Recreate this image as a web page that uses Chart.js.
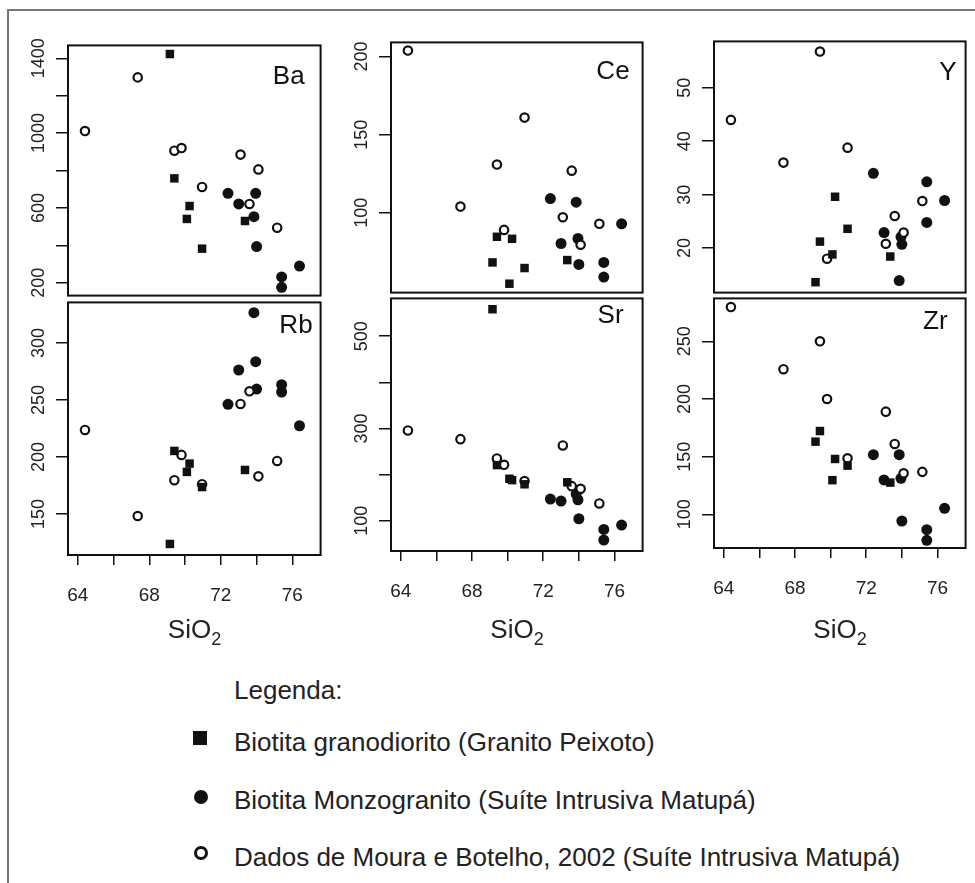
<!DOCTYPE html>
<html>
<head>
<meta charset="utf-8">
<script src="https://cdn.jsdelivr.net/npm/chart.js@4.4.1/dist/chart.umd.min.js"></script>
<style>
  body { margin: 0; background: #fff; }
  #page { position: relative; width: 975px; height: 883px; overflow: hidden;
          font-family: "Liberation Sans", Arial, sans-serif; color: #222; }
  #frame { position: absolute; left: 7px; top: 9px; width: 1000px; height: 900px;
           border-top: 2px solid #777; border-left: 2px solid #777; }
  canvas { position: absolute; }
  .xtitle { position: absolute; width: 200px; text-align: center; font-size: 26px; line-height: 26px; }
  .xtitle sub { font-size: 18px; line-height: 0; vertical-align: -7px; }
  .leg { position: absolute; left: 234px; font-size: 26px; line-height: 26px; white-space: nowrap; }
  .mk { position: absolute; background: #111; }
</style>
</head>
<body>
<div id="page">
  <div id="frame"></div>
</div>
<script>
// legend names
const groups = [
  'Biotita granodiorito (Granito Peixoto)',
  'Biotita Monzogranito (Suíte Intrusiva Matupá)',
  'Dados de Moura e Botelho, 2002 (Suíte Intrusiva Matupá)'
]

// SiO2 (wt%) of each sample
const sio2Granodiorito = [69.15, 69.4, 70.1, 70.25, 70.95, 73.35]
const sio2Monzogranito = [72.4, 73.0, 73.85, 73.95, 74.0, 75.4, 75.4, 76.4]
const sio2Moura = [64.4, 67.35, 69.4, 69.8, 70.95, 73.1, 73.6, 74.1, 75.15]

// trace elements (ppm), same sample order as above
const baGranodiorito = [1423, 758, 541, 610, 382, 530]
const baMonzogranito = [678, 621, 553, 678, 393, 231, 175, 289]
const baMoura = [1011, 1298, 906, 920, 712, 885, 621, 806, 494]

const ceGranodiorito = [68.3, 84.7, 54.7, 83.4, 64.7, 69.8]
const ceMonzogranito = [109.1, 80.4, 106.8, 83.6, 67, 68.3, 58.9, 93]
const ceMoura = [203.8, 104, 130.9, 89.1, 160.9, 97.2, 127, 79.6, 93]

const yGranodiorito = [13.6, 21.2, 18.8, 29.6, 23.6, 18.4]
const yMonzogranito = [34.0, 22.9, 13.9, 22.1, 20.7, 32.4, 24.8, 28.9]
const yMoura = [44.0, 36.0, 56.8, 18.0, 38.8, 20.8, 26.0, 22.9, 28.8]

const rbGranodiorito = [123.7, 205.3, 186.9, 194.2, 173.6, 188.6]
const rbMonzogranito = [246.2, 276.3, 326.6, 283.6, 259.6, 263.4, 257, 227.4]
const rbMoura = [223.7, 148.2, 179.6, 201.8, 176.1, 246.5, 257.6, 183, 196.5]

const srGranodiorito = [558.5, 220.6, 191, 188, 179, 183.3]
const srMonzogranito = [146.9, 142.6, 157.8, 145.5, 104.3, 81.2, 58.1, 90.6]
const srMoura = [295.7, 276.9, 235, 221.3, 185.9, 263.2, 175, 169.3, 137.5]

const zrGranodiorito = [163, 172.2, 129.6, 148, 142.2, 127.5]
const zrMonzogranito = [151.7, 129.8, 151.7, 131.2, 94.2, 86.7, 77.5, 105.2]
const zrMoura = [279.7, 225.8, 250, 200, 148.6, 189, 161, 135.6, 136.8]

// axis ticks and the ones that carry a label
const xTicks = [64, 66, 68, 70, 72, 74, 76]
const xLabels = [64, 68, 72, 76]
const baTicks = [200, 400, 600, 800, 1000, 1200, 1400]
const baLabels = [200, 600, 1000, 1400]
const ceTicks = [100, 150, 200]
const yTicks = [20, 30, 40, 50]
const rbTicks = [150, 200, 250, 300]
const srTicks = [100, 200, 300, 400, 500]
const srLabels = [100, 300, 500]
const zrTicks = [100, 150, 200, 250]

const FONT = '"Liberation Sans", Arial, sans-serif'
const PAD = 6
const YW = 62

// box = plot frame on the page [left, top, right, bottom]
const panels = [
  { name: 'Ba', box: [68, 45, 321, 296], yMin: 131, yMax: 1469, ticks: baTicks, labels: baLabels,
    values: [baGranodiorito, baMonzogranito, baMoura], nameAt: [16, 31] },
  { name: 'Ce', box: [391, 42, 643, 293], yMin: 49, yMax: 209, ticks: ceTicks, labels: ceTicks,
    values: [ceGranodiorito, ceMonzogranito, ceMoura], nameAt: [13, 29] },
  { name: 'Y', box: [714, 41, 966, 293], yMin: 11.65, yMax: 58.7, ticks: yTicks, labels: yTicks,
    values: [yGranodiorito, yMonzogranito, yMoura], nameAt: [9, 31] },
  { name: 'Rb', box: [68, 302, 321, 555], yMin: 114, yMax: 335.6, ticks: rbTicks, labels: rbTicks,
    values: [rbGranodiorito, rbMonzogranito, rbMoura], nameAt: [8, 31], bottom: true },
  { name: 'Sr', box: [391, 298, 643, 551], yMin: 34.4, yMax: 582, ticks: srTicks, labels: srLabels,
    values: [srGranodiorito, srMonzogranito, srMoura], nameAt: [19, 25], bottom: true },
  { name: 'Zr', box: [714, 298, 966, 548], yMin: 70.8, yMax: 287.2, ticks: zrTicks, labels: zrTicks,
    values: [zrGranodiorito, zrMonzogranito, zrMoura], nameAt: [18, 31], bottom: true }
]

// frame, rotated y labels, x labels and element name
const panelText = {
  id: 'panelText',
  afterDraw(chart, args, opts) {
    const { ctx, chartArea: ca, scales } = chart
    ctx.save()
    ctx.strokeStyle = '#111'
    ctx.lineWidth = 2
    ctx.strokeRect(ca.left, ca.top, ca.right - ca.left, ca.bottom - ca.top)

    ctx.fillStyle = '#222'
    ctx.font = '18px ' + FONT
    ctx.textAlign = 'center'
    ctx.textBaseline = 'middle'
    opts.yLabels.forEach(v => {
      ctx.save()
      ctx.translate(ca.left - 29, scales.y.getPixelForValue(v))
      ctx.rotate(-Math.PI / 2)
      ctx.fillText(String(v), 0, 0)
      ctx.restore()
    })

    if (opts.bottom) {
      ctx.font = '19px ' + FONT
      ctx.textBaseline = 'alphabetic'
      xLabels.forEach(v => ctx.fillText(String(v), scales.x.getPixelForValue(v), ca.bottom + 46))
    }

    ctx.fillStyle = '#111'
    ctx.font = '26px ' + FONT
    ctx.textAlign = 'right'
    ctx.fillText(opts.name, ca.right - opts.nameAt[0], ca.top + opts.nameAt[1])
    ctx.restore()
  }
}

function pts(xs, ys) {
  return xs.map((x, i) => ({ x: x, y: ys[i] }))
}

function tickMarks(list) {
  return scale => { scale.ticks = list.map(v => ({ value: v })) }
}

const page = document.getElementById('page')

panels.forEach(p => {
  const [l, t, r, b] = p.box
  const xh = p.bottom ? 612 - b : 0
  const cv = document.createElement('canvas')
  cv.width = (r - l) + YW + PAD
  cv.height = (b - t) + PAD + (p.bottom ? xh : PAD)
  cv.style.left = (l - YW) + 'px'
  cv.style.top = (t - PAD) + 'px'
  page.appendChild(cv)

  const marks = { drawOnChartArea: false, drawTicks: true, color: '#111', lineWidth: 1.5 }

  new Chart(cv, {
    type: 'scatter',
    data: {
      datasets: [
        { label: groups[0], data: pts(sio2Granodiorito, p.values[0]), pointStyle: 'rect',
          pointRadius: 6, backgroundColor: '#111', borderWidth: 0, order: 0, clip: false },
        { label: groups[2], data: pts(sio2Moura, p.values[2]), pointStyle: 'circle',
          pointRadius: 4.2, backgroundColor: '#fff', borderColor: '#111', borderWidth: 2.2, order: 1, clip: false },
        { label: groups[1], data: pts(sio2Monzogranito, p.values[1]), pointStyle: 'circle',
          pointRadius: 5.5, backgroundColor: '#111', borderWidth: 0, order: 2, clip: false }
      ]
    },
    options: {
      responsive: false,
      animation: false,
      devicePixelRatio: 1,
      events: [],
      layout: { padding: { left: 0, top: PAD, right: PAD, bottom: p.bottom ? 0 : PAD } },
      plugins: {
        legend: { display: false },
        tooltip: { enabled: false },
        panelText: { name: p.name, nameAt: p.nameAt, yLabels: p.labels, bottom: !!p.bottom }
      },
      scales: {
        x: {
          type: 'linear', min: 63.45, max: 77.58, display: !!p.bottom,
          afterBuildTicks: tickMarks(xTicks),
          afterFit: s => { s.height = xh },
          ticks: { display: false },
          grid: Object.assign({ tickLength: 10 }, marks),
          border: { display: false }
        },
        y: {
          type: 'linear', min: p.yMin, max: p.yMax,
          afterBuildTicks: tickMarks(p.ticks),
          afterFit: s => { s.width = YW },
          ticks: { display: false },
          grid: Object.assign({ tickLength: 12 }, marks),
          border: { display: false }
        }
      }
    },
    plugins: [panelText]
  })

  if (p.bottom) {
    const tt = document.createElement('div')
    tt.className = 'xtitle'
    tt.style.left = ((l + r) / 2 - 100) + 'px'
    tt.style.top = '616px'
    tt.innerHTML = 'SiO<sub>2</sub>'
    page.appendChild(tt)
  }
})

// legend block
const legRows = [
  { text: 'Legenda:', top: 677 },
  { text: groups[0], top: 729, mark: { left: 193, top: 731, w: 14, h: 14, radius: '0' } },
  { text: groups[1], top: 787, mark: { left: 194, top: 790, w: 14, h: 14, radius: '50%' } },
  { text: groups[2], top: 844, mark: { left: 194, top: 846, w: 8, h: 8, radius: '50%', open: true } }
]
legRows.forEach(row => {
  const d = document.createElement('div')
  d.className = 'leg'
  d.style.top = row.top + 'px'
  d.textContent = row.text
  page.appendChild(d)
  if (row.mark) {
    const m = document.createElement('div')
    m.className = 'mk'
    m.style.left = row.mark.left + 'px'
    m.style.top = row.mark.top + 'px'
    m.style.width = row.mark.w + 'px'
    m.style.height = row.mark.h + 'px'
    m.style.borderRadius = row.mark.radius
    if (row.mark.open) {
      m.style.background = '#fff'
      m.style.border = '3px solid #111'
    }
    page.appendChild(m)
  }
})
</script>
</body>
</html>
